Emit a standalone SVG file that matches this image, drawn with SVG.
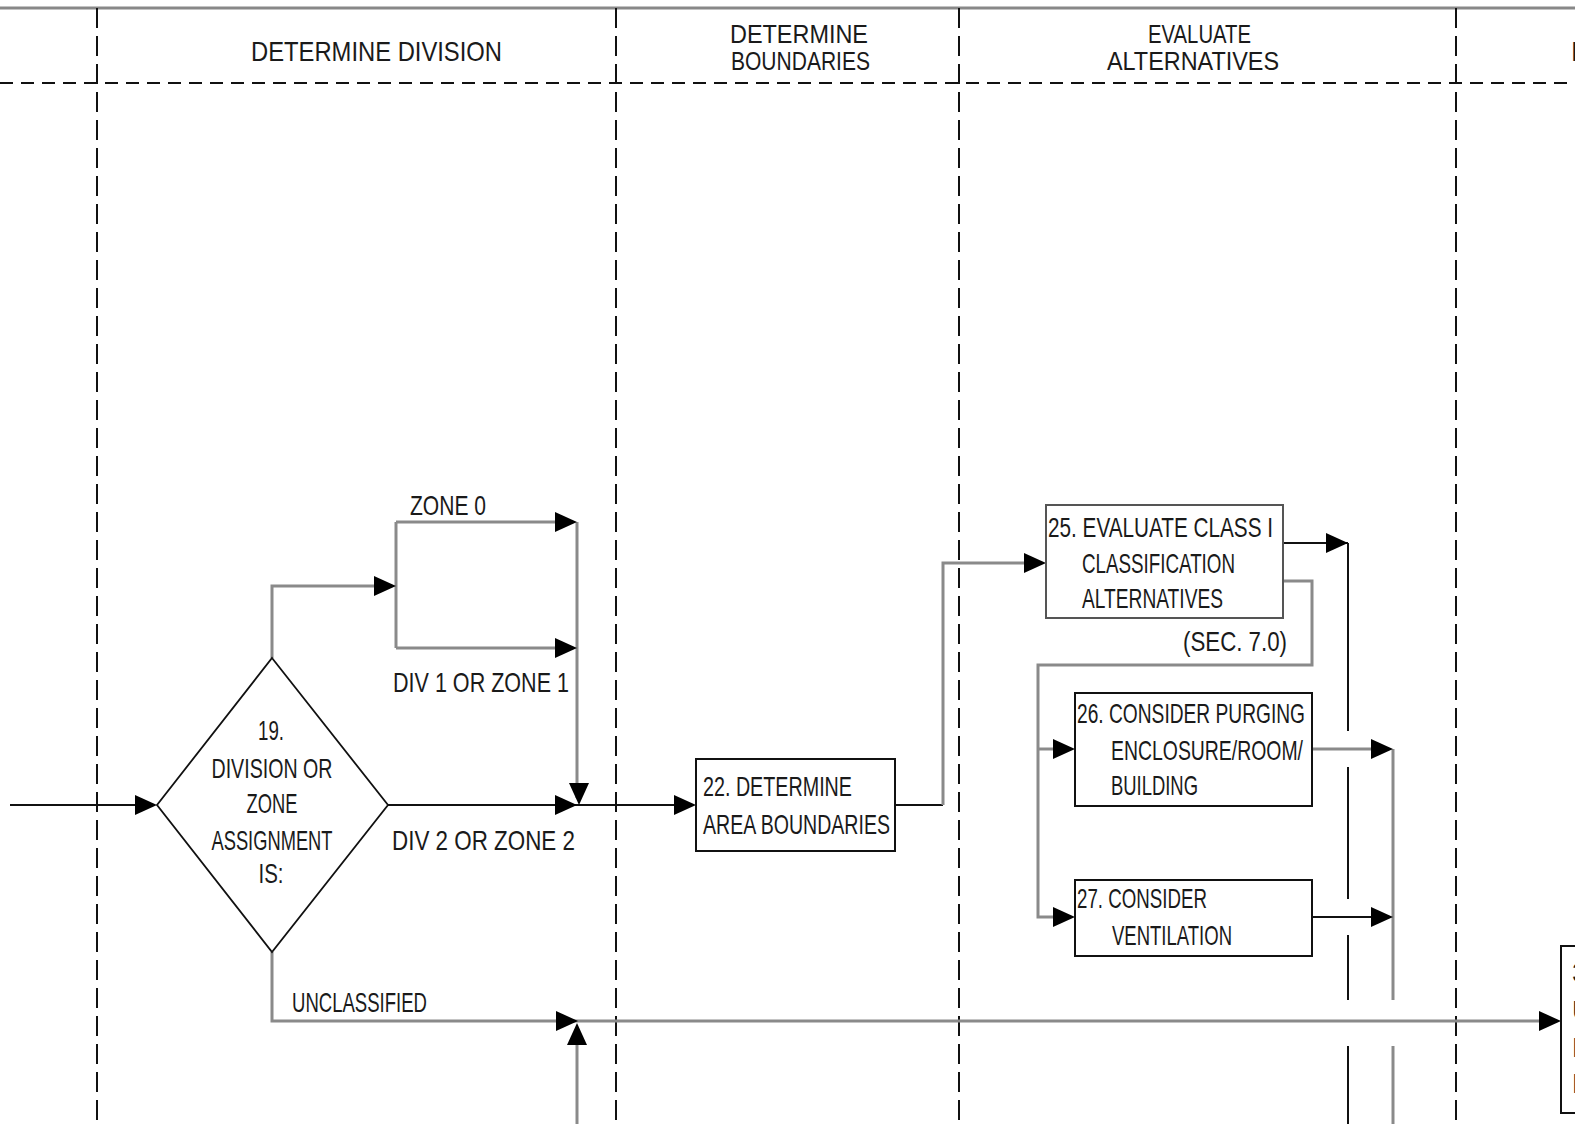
<svg xmlns="http://www.w3.org/2000/svg" width="1575" height="1124" viewBox="0 0 1575 1124">
<defs>
<style>
text{font-family:"Liberation Sans","DejaVu Sans",sans-serif;font-size:28px;fill:#1a1a1a}
.h2{font-size:25px}
.lane{stroke:#111;stroke-width:2;stroke-dasharray:20 8;fill:none}
.hd{stroke:#111;stroke-width:2;stroke-dasharray:13 8;fill:none}
.blk{stroke:#111;stroke-width:2;fill:none}
.gry{stroke:#8a8a8a;stroke-width:3;fill:none}
.box{fill:#fff;stroke:#111;stroke-width:2}
.gbox{fill:#fff;stroke:#555;stroke-width:2}
</style>
<path id="ah" d="M0,0 L-22,-10 L-22,10 Z" fill="#000"/>
</defs>
<rect x="0" y="0" width="1575" height="1124" fill="#fff"/>

<g id="lanes">
<line x1="0" y1="8" x2="1575" y2="8" stroke="#888" stroke-width="3"/>
<line class="hd" x1="0" y1="83" x2="1575" y2="83"/>
<line class="lane" x1="97" y1="8" x2="97" y2="1124"/>
<line class="lane" x1="616" y1="8" x2="616" y2="1124"/>
<line class="lane" x1="959" y1="8" x2="959" y2="1124"/>
<line class="lane" x1="1456" y1="8" x2="1456" y2="1124"/>
<text x="251" y="61" textLength="251" lengthAdjust="spacingAndGlyphs">DETERMINE  DIVISION</text>
<text class="h2" x="730" y="43" textLength="138" lengthAdjust="spacingAndGlyphs">DETERMINE</text>
<text class="h2" x="731" y="70" textLength="139" lengthAdjust="spacingAndGlyphs">BOUNDARIES</text>
<text class="h2" x="1148" y="43" textLength="103" lengthAdjust="spacingAndGlyphs">EVALUATE</text>
<text class="h2" x="1107" y="70" textLength="172" lengthAdjust="spacingAndGlyphs">ALTERNATIVES</text>
<text x="1571" y="61">D</text>
</g>

<g id="connectors">
<line class="blk" x1="10" y1="805" x2="150" y2="805"/>
<polyline class="gry" points="272,658 272,586 390,586"/>
<line class="gry" x1="396" y1="522" x2="396" y2="648"/>
<line class="gry" x1="396" y1="522" x2="570" y2="522"/>
<line class="gry" x1="396" y1="648" x2="570" y2="648"/>
<line class="gry" x1="577" y1="522" x2="577" y2="798"/>
<line class="blk" x1="388" y1="805" x2="690" y2="805"/>
<line class="blk" x1="895" y1="805" x2="943" y2="805"/>
<polyline class="gry" points="943,805 943,563 1040,563"/>
<line class="blk" x1="1283" y1="543" x2="1348" y2="543"/>
<line class="blk" x1="1348" y1="543" x2="1348" y2="731"/>
<line class="blk" x1="1348" y1="767" x2="1348" y2="899"/>
<line class="blk" x1="1348" y1="935" x2="1348" y2="1000"/>
<line class="blk" x1="1348" y1="1046" x2="1348" y2="1124"/>
<polyline class="gry" points="1283,581 1312,581 1312,665 1038,665 1038,917 1068,917"/>
<line class="gry" x1="1038" y1="749" x2="1068" y2="749"/>
<line class="gry" x1="1312" y1="749" x2="1387" y2="749"/>
<line class="blk" x1="1312" y1="917" x2="1387" y2="917"/>
<line class="gry" x1="1393" y1="749" x2="1393" y2="1000"/>
<line class="gry" x1="1393" y1="1046" x2="1393" y2="1124"/>
<polyline class="gry" points="272,952 272,1021 1555,1021"/>
<line class="gry" x1="577" y1="1124" x2="577" y2="1030"/>
<use href="#ah" transform="translate(157,805)"/>
<use href="#ah" transform="translate(396,586)"/>
<use href="#ah" transform="translate(577,522)"/>
<use href="#ah" transform="translate(577,648)"/>
<use href="#ah" transform="translate(577,805)"/>
<use href="#ah" transform="translate(579,805) rotate(90)"/>
<use href="#ah" transform="translate(696,805)"/>
<use href="#ah" transform="translate(1046,563)"/>
<use href="#ah" transform="translate(1348,543)"/>
<use href="#ah" transform="translate(1075,749)"/>
<use href="#ah" transform="translate(1075,917)"/>
<use href="#ah" transform="translate(1393,749)"/>
<use href="#ah" transform="translate(1393,917)"/>
<use href="#ah" transform="translate(578,1021)"/>
<use href="#ah" transform="translate(577,1023) rotate(-90)"/>
<use href="#ah" transform="translate(1561,1021)"/>
<text x="410" y="515" textLength="76" lengthAdjust="spacingAndGlyphs">ZONE 0</text>
<text x="393" y="692" textLength="176" lengthAdjust="spacingAndGlyphs">DIV 1 OR ZONE 1</text>
<text x="392" y="850" textLength="183" lengthAdjust="spacingAndGlyphs">DIV 2 OR ZONE 2</text>
<text x="292" y="1012" textLength="135" lengthAdjust="spacingAndGlyphs">UNCLASSIFIED</text>
</g>

<g id="node19">
<polygon points="272,658 388,805 272,952 157,805" fill="none" stroke="#111" stroke-width="1.8"/>
<text x="271" y="740" text-anchor="middle" textLength="26" lengthAdjust="spacingAndGlyphs">19.</text>
<text x="272" y="778" text-anchor="middle" textLength="121" lengthAdjust="spacingAndGlyphs">DIVISION OR</text>
<text x="272" y="813" text-anchor="middle" textLength="51" lengthAdjust="spacingAndGlyphs">ZONE</text>
<text x="272" y="850" text-anchor="middle" textLength="121" lengthAdjust="spacingAndGlyphs">ASSIGNMENT</text>
<text x="271" y="883" text-anchor="middle" textLength="25" lengthAdjust="spacingAndGlyphs">IS:</text>
</g>

<g id="node22">
<rect class="box" x="696" y="759" width="199" height="92"/>
<text x="703" y="796" textLength="149" lengthAdjust="spacingAndGlyphs">22. DETERMINE</text>
<text x="703" y="834" textLength="187" lengthAdjust="spacingAndGlyphs">AREA BOUNDARIES</text>
</g>

<g id="node25">
<rect class="gbox" x="1046" y="505" width="237" height="113"/>
<text x="1048" y="537" textLength="225" lengthAdjust="spacingAndGlyphs">25. EVALUATE CLASS I</text>
<text x="1082" y="573" textLength="153" lengthAdjust="spacingAndGlyphs">CLASSIFICATION</text>
<text x="1082" y="608" textLength="141" lengthAdjust="spacingAndGlyphs">ALTERNATIVES</text>
<text x="1183" y="651" textLength="104" lengthAdjust="spacingAndGlyphs">(SEC. 7.0)</text>
</g>

<g id="node26">
<rect class="box" x="1075" y="693" width="237" height="113"/>
<text x="1077" y="723" textLength="228" lengthAdjust="spacingAndGlyphs">26. CONSIDER PURGING</text>
<text x="1111" y="760" textLength="192" lengthAdjust="spacingAndGlyphs">ENCLOSURE/ROOM/</text>
<text x="1111" y="795" textLength="87" lengthAdjust="spacingAndGlyphs">BUILDING</text>
</g>

<g id="node27">
<rect class="box" x="1075" y="880" width="237" height="76"/>
<text x="1077" y="908" textLength="130" lengthAdjust="spacingAndGlyphs">27. CONSIDER</text>
<text x="1112" y="945" textLength="120" lengthAdjust="spacingAndGlyphs">VENTILATION</text>
</g>

<g id="nodeRight">
<rect class="box" x="1561" y="946" width="40" height="167"/>
<text x="1572" y="982">3</text>
<text x="1572" y="1020">U</text>
<text x="1572" y="1057">E</text>
<text x="1572" y="1093">E</text>
</g>
</svg>
